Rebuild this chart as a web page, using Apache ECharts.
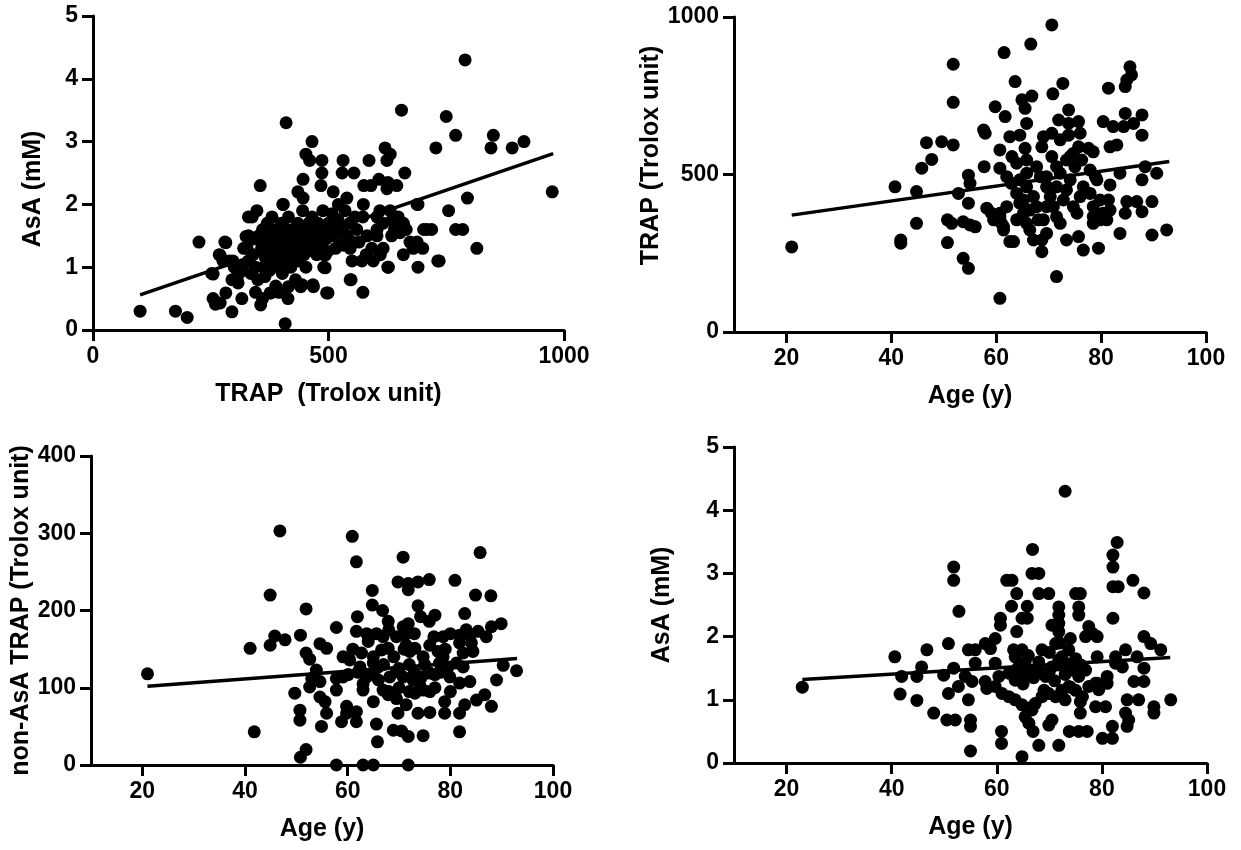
<!DOCTYPE html>
<html>
<head>
<meta charset="utf-8">
<script src="https://cdn.jsdelivr.net/npm/echarts@6/dist/echarts.min.js"></script>
<style>
html,body{margin:0;padding:0;background:#fff;}
#chart{width:1241px;height:850px;}
</style>
</head>
<body>
<div id="chart"></div>
<script>
// ---------- DATA ----------
// Panel A: TRAP (Trolox unit) vs AsA (mM)
const trapVsAsa = [[100,0.3],[175,0.3],[200,0.2],[225,1.4],[255,0.89],[260,0.41],[255,0.5],[282,0.59],[270,1.19],[282,1.39],[295,0.29],[306,0.8],[316,0.5],[327,1.3],[325,1.49],[330,1.8],[348,1.9],[355,2.3],[356,0.4],[378,0.59],[408,0.1],[410,3.3],[414,0.5],[415,0.69],[441,0.69],[468,0.69],[493,0.99],[493,1.19],[496,0.59],[548,0.8],[573,0.6],[627,1.0],[465,3.0],[452,2.8],[460,2.7],[486,2.7],[486,2.5],[484,2.3],[446,2.4],[435,2.2],[446,2.1],[403,2.0],[531,2.7],[529,2.5],[554,2.5],[586,2.7],[620,2.9],[631,2.8],[624,2.7],[662,2.5],[655,3.5],[750,3.4],[790,4.3],[770,3.1],[728,2.9],[850,3.1],[845,2.9],[890,2.9],[915,3.0],[975,2.2],[795,2.1],[815,1.3],[755,1.9],[770,1.6],[785,1.6],[735,1.1],[690,2.0],[690,1.0],[702,1.6],[719,1.6],[575,2.3],[590,2.3],[607,2.4],[626,2.35],[645,2.3],[624,2.25],[510,2.2],[539,2.1],[574,2.0],[609,1.9],[631,1.9],[688,2.0],[404,2.0],[338,1.8],[330,1.5],[280,1.4],[268,1.2],[252,0.9],[276,1.1],[297,1.1],[295,0.8],[308,0.75],[270,0.43],[376,0.59],[444,0.72],[467,0.72],[499,0.59],[546,0.8],[490,1.0],[490,1.2],[550,1.1],[571,1.1],[550,1.4],[546,1.3],[582,1.5],[603,1.5],[592,1.3],[616,1.3],[626,1.0],[634,1.5],[652,1.55],[659,1.7],[659,1.2],[673,1.4],[688,1.4],[709,1.6],[732,1.1],[556,1.8],[573,1.8],[603,1.8],[616,1.7],[635,1.75],[648,1.8],[603,1.6],[521,2.0],[330,1.1],[335,0.9],[340,1.2],[345,1.0],[350,0.8],[352,1.5],[358,1.3],[360,1.6],[362,1.0],[365,0.85],[368,1.4],[370,1.7],[372,1.2],[375,0.95],[378,1.5],[380,1.8],[383,1.1],[385,1.3],[388,0.7],[390,1.6],[392,1.4],[395,1.0],[398,1.2],[400,1.7],[402,0.9],[405,1.5],[408,1.3],[410,1.1],[412,1.6],[415,1.8],[418,1.4],[420,1.0],[422,1.2],[425,1.6],[428,1.5],[430,0.8],[432,1.3],[435,1.7],[438,1.1],[440,1.5],[442,1.4],[445,1.9],[448,1.2],[450,1.6],[452,1.0],[455,1.45],[458,1.7],[460,1.3],[462,1.55],[465,1.8],[470,1.6],[472,1.4],[475,1.2],[478,1.7],[480,1.5],[485,1.3],[488,1.9],[492,1.6],[495,1.45],[500,1.7],[505,1.5],[508,1.85],[512,1.6],[515,1.3],[520,1.75],[525,1.55],[530,1.65],[535,1.9],[540,1.5],[545,1.7],[560,1.6],[565,1.4],[580,1.2],[595,1.1],[610,1.2],[640,1.6],[665,1.6],[680,1.3],[700,1.3],[315,1.0],[320,1.3],[310,0.9],[300,1.0],[290,1.1],[345,0.6],[360,0.5],[395,0.6],[342,1.45],[366,1.15],[384,1.55],[396,1.35],[418,1.25],[434,1.45],[454,1.25],[466,1.5],[482,1.65],[498,1.25],[516,1.5],[532,1.35]];
const trapVsAsaFit = [[100,0.56],[977,2.81]];

// Panel B: Age (y) vs TRAP (Trolox unit)
const ageVsTrap = [[21,270],[40.7,461],[44.8,446],[44.8,345],[41.8,292],[41.8,282],[45.8,520],[46.7,601],[47.7,548],[49.6,604],[51.8,594],[51.8,850],[51.8,729],[50.7,356],[51.5,345],[53.7,350],[55,340],[56,334],[50.7,284],[53.7,234],[54.7,202],[52.8,440],[54.7,498],[55,472],[54.7,409],[57.6,641],[57.9,631],[57.7,525],[58.2,393],[59.1,377],[60.7,366],[61,345],[61.4,324],[62.6,287],[59.8,715],[61.7,684],[60.7,578],[61.5,887],[63.6,795],[64.9,737],[65.5,710],[66.8,749],[65.8,662],[62.6,620],[64.5,625],[63,557],[63.9,536],[65.5,583],[65.8,546],[66.6,914],[70.8,756],[70.6,975],[72.7,789],[73.8,705],[71.9,673],[73.8,662],[75.7,668],[69,620],[70.6,631],[72.2,610],[73.8,625],[76,631],[68.7,588],[70.6,557],[71.5,525],[74.1,557],[75,525],[75.7,588],[77.6,583],[78.5,572],[81.4,774],[84.6,779],[84.9,800],[85.5,842],[85.8,816],[80.4,668],[82.3,652],[84.3,652],[86.2,662],[81.7,588],[83,594],[84.6,694],[87.8,689],[87.8,625],[83.6,504],[81.7,467],[87.8,483],[88.4,525],[90.6,504],[84.9,414],[86.8,414],[89.7,414],[87.8,382],[84.6,377],[83.6,313],[89.7,308],[92.5,324],[73.4,292],[75.7,303],[76.6,260],[79.5,266],[68.7,255],[71.5,176],[60.7,107],[63.3,287],[78.9,493],[81.4,419],[79.8,356],[78.5,345],[60.7,520],[62.0,493],[62.9,472],[63.9,440],[64.5,409],[65.2,377],[65.8,345],[66.4,324],[67.1,292],[68.4,493],[69.6,461],[70.3,430],[70.9,398],[71.5,366],[72.2,345],[72.8,419],[73.4,451],[74.1,483],[74.7,398],[75.4,377],[76.0,430],[76.6,461],[77.9,440],[78.5,398],[64.5,483],[65.8,461],[67.1,430],[67.7,398],[69.0,356],[69.6,313],[63.9,356],[62.0,398],[60.7,377],[59.5,356],[61.4,334],[65.8,504],[67.7,525],[69.6,493],[72.2,504],[73.4,546],[74.7,567],[76.3,546],[77.9,514],[79.2,483],[79.8,419],[80.4,377],[81.7,387],[81.1,356],[78.5,366],[69.6,398],[71.5,461],[65.2,419],[66.4,387],[68.0,356],[68.7,292]];
const ageVsTrapFit = [[21,371],[93,541]];

// Panel C: Age (y) vs non-AsA TRAP (Trolox unit)
const ageVsNonAsa = [[21,118],[46.8,303],[60.9,296],[61.7,263],[70.8,269],[85.8,275],[44.9,220],[51.9,202],[64.8,226],[69.8,237],[71.8,235],[71.8,227],[73.7,237],[75.9,240],[80.9,239],[84.9,220],[87.9,219],[41,151],[44.9,155],[45.8,167],[47.8,162],[50.8,168],[51.9,145],[52.6,137],[54.6,157],[55.9,151],[57.8,178],[61.9,192],[61.7,173],[63.7,170],[65.6,170],[66.9,166],[64.8,207],[66.8,200],[67.9,186],[73.7,206],[74.2,192],[75.9,186],[77,194],[70.8,179],[71.8,183],[71.1,168],[71.4,155],[76.8,166],[78.6,166],[82.8,196],[81.8,168],[83.1,175],[83.8,168],[85.4,173],[87,166],[88,179],[89.9,183],[62.7,145],[59.1,140],[60.4,136],[65,132],[66.6,149],[67.9,151],[69.5,166],[72.1,147],[73.1,151],[74.7,140],[77.6,147],[78.6,140],[84.4,147],[84.1,158],[81.8,158],[82.5,145],[90.3,129],[92.9,122],[53.9,123],[53,112],[54.6,108],[57.8,112],[59.1,114],[60.1,117],[62.4,127],[63.7,114],[65,119],[66,127],[68.2,114],[69.5,121],[70.8,114],[72.7,110],[74.4,114],[76,119],[77.9,132],[79.6,127],[81.2,132],[82.5,127],[77,117],[79.9,114],[81.8,106],[83.8,108],[89,110],[49.7,93],[52.6,101],[54.6,88],[55.6,82],[55.9,67],[54.9,50],[50.7,71],[50.7,58],[57.8,97],[59.8,76],[61.7,69],[59.8,67],[58.8,56],[61.7,56],[63,97],[65,82],[66.9,97],[67.9,91],[69.5,86],[69.8,67],[71.4,78],[73.1,93],[74.7,97],[76,95],[73.7,67],[76,68],[78.9,82],[78.9,67],[81.8,67],[82.8,78],[85.1,84],[86.7,91],[88,76],[65.6,53],[68.9,45],[70.5,44],[71.8,37],[74.7,38],[81.8,43],[41.8,43],[65.8,30],[51.9,20],[50.8,10],[57.8,0],[63,0],[65,0],[71.8,0],[61,150],[62,120],[63,105],[64,160],[65,140],[66,110],[67,130],[68,95],[68,175],[69,140],[70,125],[70,100],[71,150],[72,130],[72,95],[73,120],[73,170],[74,105],[75,130],[76,155],[77,100],[78,120],[79,150],[80,95],[80,170]];
const ageVsNonAsaFit = [[21,102],[93,138]];

// Panel D: Age (y) vs AsA (mM)
const ageVsAsa = [[23,1.2],[73,4.3],[82.9,3.49],[82.1,3.29],[82.1,3.1],[82.1,2.79],[83.1,2.79],[82.1,2.29],[85.9,2.89],[88,2.69],[66.8,3.38],[51.8,3.1],[51.8,2.89],[52.8,2.4],[61.9,2.89],[62.9,2.89],[66.7,3.0],[68,3.0],[63.8,2.68],[68,2.68],[69.9,2.68],[75,2.68],[75.9,2.68],[62.8,2.48],[65.8,2.48],[60.7,2.29],[60.7,2.18],[64.8,2.29],[65.8,2.29],[71.8,2.47],[71.8,2.34],[71.8,2.21],[75.6,2.47],[75.6,2.34],[70.5,2.18],[71.8,2.08],[63.8,2.08],[77.5,2.16],[78.2,2.05],[76.9,2.0],[79.1,2.0],[88,2.0],[89.3,1.89],[91.2,1.79],[40.6,1.68],[46.7,1.79],[50.8,1.89],[54.6,1.79],[55.9,1.79],[57.8,1.89],[58.8,1.81],[59.7,1.97],[55.9,1.58],[63.2,1.79],[64.8,1.79],[68.6,1.79],[71.2,1.89],[74,1.97],[72.4,1.68],[73.7,1.79],[79.1,1.68],[82.6,1.68],[84.5,1.79],[86.7,1.68],[41.9,1.37],[44.8,1.37],[45.7,1.52],[49.9,1.39],[51.8,1.5],[54,1.37],[52.7,1.21],[55.3,1.29],[57.8,1.29],[59.7,1.58],[60.4,1.37],[62.3,1.42],[63.5,1.31],[64.8,1.37],[66.1,1.47],[63.5,1.68],[65.4,1.6],[68,1.47],[69.3,1.37],[70.5,1.52],[71.8,1.63],[73,1.58],[74.3,1.47],[75.6,1.37],[76.9,1.47],[81,1.37],[81,1.26],[79.1,1.26],[79.4,1.16],[82.6,1.58],[83.9,1.52],[88,1.5],[88,1.29],[86.1,1.29],[41.6,1.09],[44.8,0.99],[48,0.79],[50.8,1.1],[50.5,0.68],[52.1,0.68],[54.6,1.0],[55,0.68],[55,0.58],[55,0.19],[58.1,1.18],[59.7,1.21],[61,1.1],[62.3,1.05],[63.5,1.0],[64.8,0.92],[66.1,0.87],[67.3,0.94],[68.6,1.05],[69.9,1.1],[71.2,1.05],[72.4,1.15],[73.7,1.21],[75,1.15],[76.3,1.05],[77.5,1.21],[78.8,1.26],[65.4,0.73],[66.7,0.84],[66.1,0.63],[69.9,0.6],[70.5,0.68],[73,1.0],[75.9,0.97],[75.9,0.79],[78.8,0.89],[80.7,0.89],[84.8,1.0],[87,1.0],[89.9,0.89],[89.9,0.79],[93.1,1.0],[84.5,0.79],[85.1,0.68],[82,0.58],[84.8,0.58],[80.1,0.39],[82,0.39],[73.8,0.5],[75.6,0.5],[77.2,0.5],[66.9,0.5],[68,0.28],[71.8,0.28],[60.9,0.5],[60.9,0.31],[64.8,0.1],[64,1.5],[65,1.25],[66,1.7],[67,1.35],[68,1.6],[69,1.15],[70,1.45],[70,1.75],[71,1.3],[72,1.55],[72,1.9],[73,1.4],[74,1.2],[75,1.65],[76,1.55]];
const ageVsAsaFit = [[23,1.32],[93,1.67]];

// Tick values
const ageTicks = [20, 40, 60, 80, 100];

// ---------- CHART ----------
const FONT = '"Liberation Sans", Arial, Helvetica, sans-serif';
const grids = [
  {left: 93, top: 16, width: 471, height: 314},
  {left: 734, top: 17, width: 472, height: 315},
  {left: 91, top: 456, width: 462, height: 309},
  {left: 734, top: 447, width: 473, height: 316}
];

function baseAxis(gi) {
  return {
    gridIndex: gi,
    type: 'value',
    splitLine: {show: false},
    axisLine: {show: true, onZero: false, lineStyle: {color: '#000', width: 3}},
    axisTick: {show: true, length: 11, lineStyle: {color: '#000', width: 3}},
    axisLabel: {color: '#000', fontFamily: FONT, fontWeight: 'bold', fontSize: 23,
      formatter: function (v) { return String(v); }},
    nameLocation: 'middle',
    nameTextStyle: {color: '#000', fontFamily: FONT, fontWeight: 'bold', fontSize: 25}
  };
}
function xAxis(gi, name, opts) {
  const a = baseAxis(gi);
  a.name = name; a.nameGap = 52;
  a.axisLabel.margin = 15;
  return Object.assign(a, opts);
}
function yAxis(gi, name, gap, pad, opts) {
  const a = baseAxis(gi);
  a.name = name; a.nameGap = gap;
  a.nameTextStyle.padding = pad;
  a.axisLabel.margin = 15;
  return Object.assign(a, opts);
}
function ageAxis(gi) {
  const a = xAxis(gi, 'Age (y)', {min: 10, max: 100});
  a.axisTick.customValues = ageTicks;
  a.axisLabel.customValues = ageTicks;
  return a;
}

const xAxes = [
  xAxis(0, 'TRAP  (Trolox unit)', {min: 0, max: 1000, interval: 500}),
  ageAxis(1), ageAxis(2), ageAxis(3)
];
const yAxes = [
  yAxis(0, 'AsA (mM)', 47, [0, 32, 0, 0], {min: 0, max: 5, interval: 1}),
  yAxis(1, 'TRAP (Trolox unit)', 66, [0, 0, 0, 38], {min: 0, max: 1000, interval: 500}),
  yAxis(2, 'non-AsA TRAP (Trolox unit)', 46, [0, 0, 0, 0], {min: 0, max: 400, interval: 100}),
  yAxis(3, 'AsA (mM)', 59, [0, 0, 0, 0], {min: 0, max: 5, interval: 1})
];

function scatter(i, data) {
  return {type: 'scatter', xAxisIndex: i, yAxisIndex: i, data: data, symbolSize: 13,
    itemStyle: {color: '#000', opacity: 1}, z: 2};
}
function fit(i, data) {
  return {type: 'line', xAxisIndex: i, yAxisIndex: i, data: data, showSymbol: false, symbol: 'none',
    lineStyle: {color: '#000', width: 3.5}, z: 3};
}

const chart = echarts.init(document.getElementById('chart'), null, {renderer: 'canvas'});
chart.setOption({
  animation: false,
  backgroundColor: '#fff',
  grid: grids,
  xAxis: xAxes,
  yAxis: yAxes,
  series: [
    scatter(0, trapVsAsa), fit(0, trapVsAsaFit),
    scatter(1, ageVsTrap), fit(1, ageVsTrapFit),
    scatter(2, ageVsNonAsa), fit(2, ageVsNonAsaFit),
    scatter(3, ageVsAsa), fit(3, ageVsAsaFit)
  ]
});
</script>
</body>
</html>
